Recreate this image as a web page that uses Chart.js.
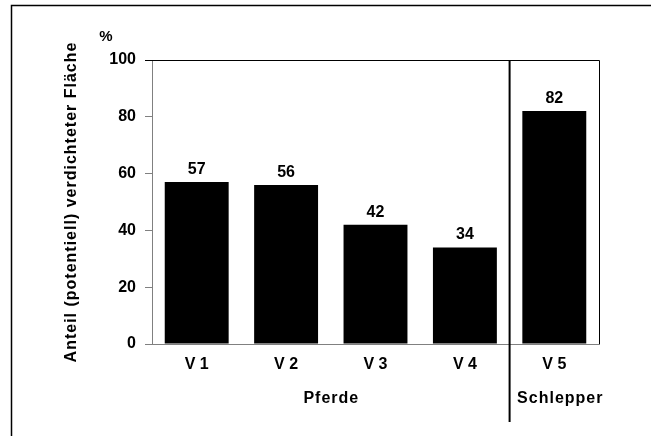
<!DOCTYPE html>
<html>
<head>
<meta charset="utf-8">
<script src="https://cdn.jsdelivr.net/npm/chart.js@4.4.1/dist/chart.umd.min.js"></script>
<style>
  html, body { margin: 0; padding: 0; background: #fff; }
  #wrap { width: 651px; height: 436px; position: relative; }
</style>
</head>
<body>
<div id="wrap"><canvas id="c" width="651" height="436"></canvas></div>
<script>
// Share of (potentially) compacted area per variant
const categories = ['V 1', 'V 2', 'V 3', 'V 4', 'V 5'];
const values = [57, 56, 42, 34, 82];
const yTicks = [0, 20, 40, 60, 80, 100];
const groups = [
  { label: 'Pferde', from: 0, to: 3 },
  { label: 'Schlepper', from: 4, to: 4 }
];
const yTitle = 'Anteil (potentiell) verdichteter Fläche';
const unitLabel = '%';

const FONT = 'Arial, "Liberation Sans", Helvetica, sans-serif';

const decorations = {
  id: 'decorations',
  beforeDraw(chart) {
    chart.ctx.letterSpacing = '0px';
  },
  // the x axis is drawn after the bars (z: 1); its labels get a little tracking
  afterDatasetsDraw(chart) {
    chart.ctx.letterSpacing = '1px';
  },
  afterDraw(chart) {
    const { ctx, chartArea: a, scales: { x } } = chart;
    ctx.save();
    ctx.letterSpacing = '0px';

    // outer figure frame (left and top edges)
    ctx.strokeStyle = '#000';
    ctx.lineWidth = 1.5;
    ctx.beginPath();
    ctx.moveTo(11.5, 436);
    ctx.lineTo(11.5, 5.5);
    ctx.lineTo(651, 5.5);
    ctx.stroke();

    // top and right border of the plot area
    ctx.lineWidth = 1;
    ctx.beginPath();
    ctx.moveTo(a.left - 7, Math.round(a.top) + 0.5);
    ctx.lineTo(Math.round(a.right) + 0.5, Math.round(a.top) + 0.5);
    ctx.lineTo(Math.round(a.right) + 0.5, Math.round(a.bottom));
    ctx.stroke();

    // separator between the two groups
    const step = x.getPixelForValue(1) - x.getPixelForValue(0);
    const sepX = x.getPixelForValue(groups[1].from) - step / 2;
    ctx.lineWidth = 2;
    ctx.beginPath();
    ctx.moveTo(sepX, a.top);
    ctx.lineTo(sepX, 422);
    ctx.stroke();

    // value labels above bars
    ctx.fillStyle = '#000';
    ctx.font = 'bold 16px ' + FONT;
    ctx.textAlign = 'center';
    ctx.textBaseline = 'middle';
    const meta = chart.getDatasetMeta(0);
    meta.data.forEach((bar, i) => {
      ctx.fillText(String(values[i]), bar.x, bar.y - 12.5);
    });

    // group labels; the narrow right-hand group's label sits a bit right of centre
    ctx.letterSpacing = '1px';
    groups.forEach((g, i) => {
      const l = x.getPixelForValue(g.from) - step / 2;
      const r = x.getPixelForValue(g.to) + step / 2;
      const nudge = i === groups.length - 1 ? 6 : 0.5;
      ctx.fillText(g.label, (l + r) / 2 + nudge, 399);
    });

    // unit label
    ctx.letterSpacing = '0px';
    ctx.font = 'bold 15px ' + FONT;
    ctx.fillText(unitLabel, 106, 37);

    // y-axis title
    ctx.font = 'bold 16px ' + FONT;
    ctx.letterSpacing = '1px';
    ctx.translate(71.5, (a.top + a.bottom) / 2);
    ctx.rotate(-Math.PI / 2);
    ctx.fillText(yTitle, 0, 0);

    ctx.restore();
  }
};

new Chart(document.getElementById('c'), {
  type: 'bar',
  data: {
    labels: categories,
    datasets: [{
      data: values,
      backgroundColor: '#000',
      borderWidth: 0,
      barPercentage: 0.715,
      categoryPercentage: 1
    }]
  },
  options: {
    responsive: false,
    animation: false,
    devicePixelRatio: 1,
    layout: { padding: { left: 0, top: 60, right: 52, bottom: 0 } },
    plugins: { legend: { display: false }, tooltip: { enabled: false } },
    scales: {
      x: {
        z: 1,
        grid: { display: false, drawTicks: false },
        border: { color: '#808080', width: 1 },
        ticks: { color: '#000', font: { family: FONT, size: 16, weight: 'bold' }, padding: 11 },
        afterFit(s) { s.height = 92; }
      },
      y: {
        min: 0, max: 100,
        afterBuildTicks(s) { s.ticks = yTicks.map(v => ({ value: v })); },
        grid: { drawOnChartArea: false, drawTicks: true, tickLength: 7, color: '#808080' },
        border: { color: '#808080', width: 1 },
        ticks: { color: '#000', font: { family: FONT, size: 16, weight: 'bold' }, padding: 9 },
        afterFit(s) { s.width = 152; }
      }
    }
  },
  plugins: [decorations]
});
</script>
</body>
</html>
